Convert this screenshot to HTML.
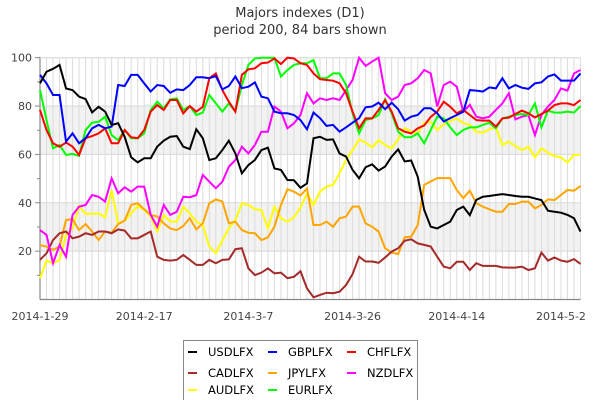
<!DOCTYPE html>
<html><head><meta charset="utf-8"><style>
html,body{margin:0;padding:0;background:#fff;}
svg{display:block;font-family:"DejaVu Sans","Liberation Sans",sans-serif;}
</style></head><body>
<svg id="chart" width="600" height="400" viewBox="0 0 600 400">
<text x="300" y="17" text-anchor="middle" font-size="13" fill="#333">Majors indexes (D1)</text>
<text x="300" y="34" text-anchor="middle" font-size="13" fill="#333">period 200, 84 bars shown</text>
<g id="plot"></g>
<g id="legend"></g>
</svg>
<script>
const xLabels = ["2014-1-29","2014-2-17","2014-3-7","2014-3-26","2014-4-14","2014-5-2"];
const xLabelBars = [0,16,32,48,64,80];
const yTicks = [20,40,60,80,100];
const seriesNames = ["USDLFX","GBPLFX","CHFLFX","CADLFX","JPYLFX","NZDLFX","AUDLFX","EURLFX"];
const seriesColors = ["#000000","#0000ff","#ff0000","#a52a2a","#ffa500","#ff00ff","#ffff00","#00ff00"];
const usd = [89.4,94.2,95.4,97,87.3,86.6,83.9,82.9,77.4,79.7,77.7,72.2,72.9,67.3,58.8,56.7,58.4,58.4,63.2,65.7,67.3,67.6,63.2,62.2,70.4,66.7,57.7,58.4,61.8,65.7,60.4,52.2,55.6,57.7,61.8,62.8,54.2,53.6,49.4,49.3,46.2,48,66.7,67.3,66,66.2,60.4,59.1,53.6,50.1,54.7,55.9,53.3,55,59.1,62.1,57.1,57.5,50.8,37,30.1,29.4,30.8,32.2,37,38.4,34.9,41.2,42.5,42.8,43.2,43.6,43.2,42.8,42.5,42.5,41.8,41.1,36.7,36.3,35.9,35,33.6,28.1];
const gbp = [92.9,89.4,84.6,84.6,65.3,68.7,64.6,66.7,70.8,72.2,70.8,71.5,88.7,88.3,92.9,92.9,89.4,86,88.7,88.3,85.5,86.9,86.6,88.7,91.9,91.9,91.5,92.4,86.9,88.3,92.2,87.4,88,89.8,83.9,83.2,77.7,77,77,76.3,74.2,70.4,77.3,75,71.8,72.2,69.4,71.2,73.1,75,79.5,79.8,81.4,78.7,81.4,78.7,74,75.6,76.3,79.1,79.1,77,73.6,75,76.3,77.7,86.6,86.4,86,87.7,87.3,91.5,87.3,88.7,87.6,87.1,89.4,89.8,92.2,93.1,90.5,90.5,90.5,93.5];
const chf = [78.4,70.1,64.6,63.2,64.9,63.2,59.8,66.7,67.6,68.7,70.8,64.6,64.6,70.1,67.1,66.7,70.1,77.7,80.4,78.4,82.5,82.5,77,80,77.7,79.7,91.5,93.5,86.6,81.8,77.7,92.9,95.2,95.6,97.7,98,99.7,97.4,100,99.7,97.7,97,93.5,91.1,90.8,90.5,89.4,85.3,77.7,70.8,74.9,74.9,78.4,82.5,77.7,70.8,69.4,68.7,70.8,72,75.5,77.7,81.8,79.7,77,78.4,76.3,74.2,74,74,71.5,74.9,75.2,76.7,78.1,77,75.3,76.7,78.1,80.4,81.1,81.1,80.4,82.5];
const cad = [16.4,19.1,24.6,27.4,28.1,25.3,26,27.4,26.7,28.1,28.1,27.4,29,28.5,25.3,25.3,26.7,28.1,17.7,16.4,16.1,16.4,18.4,16.4,14.3,14.3,16.4,15,16.4,16.6,20.8,21.2,12.9,10.1,11.1,12.9,10.8,11.1,8.8,9.4,11.7,4.6,0.9,1.9,2.8,2.6,3.2,6,10.5,17.7,15.7,15.7,15.2,17.4,19.8,21.2,24.3,24.9,23.2,22.6,21.9,17.7,13.6,12.9,15.6,15.6,12.2,15,13.9,13.9,13.9,13.3,13.2,13.2,13.6,12.2,12.9,19.4,16.1,17.4,16.1,15.6,16.7,14.7];
const jpy = [22.5,21.9,20.5,21.9,32.9,33.2,28.7,31.2,28.1,24.6,28.1,27.6,31.2,32.6,39.1,39.8,37.3,35,34.3,31.5,29.4,28.7,30.4,33.6,29,31.5,39.8,41.4,40.5,31.5,32.2,28.7,27.6,27.4,24.6,25.7,30.1,39.1,45.6,44.6,43,45.9,30.8,30.8,32.2,30.1,33.6,34.3,38.4,38.4,31.5,30.1,28.1,21.2,19.4,18.8,25.7,26,30.8,47.4,48.8,50.2,50.2,50.2,45.3,41.9,45,39.8,38.4,37.3,36.3,36.3,39.5,39.5,40.5,40.5,37.7,39.1,41.4,41.1,43.2,45.3,45,46.9];
const nzd = [28.7,26.7,15,22.5,17.7,35,38.4,39.1,43.2,42.5,40.5,50.1,43.9,46.4,44.6,46.7,46.7,35,30.1,39.1,35,36.3,42.5,42.3,43.2,51.5,48.7,46,48.7,54.9,57.7,63.2,60.4,63.9,69.4,69.4,79.8,77.7,70.8,72.9,76.3,85.3,81.1,83.2,82.5,83.2,82.5,86.6,90.8,100,96.6,98.4,100,85.3,82.5,83.9,88.7,89.4,91.5,94.9,93.5,79.8,88.7,90.1,88,77.7,80.5,75.6,74.9,75.6,78.4,81.1,85.3,74.5,75.6,76.3,68,76.3,79.8,82.5,87.3,86.4,93.5,94.9];
const aud = [8.8,16.1,15,16.3,26.7,29.4,38.7,35.4,35.4,35.6,34,45.3,31.5,32.6,35.6,38.7,37,34.3,28.1,35,32.2,32.2,38.4,35.6,32.2,30.8,21.9,19.2,24.4,29.4,32.9,39.8,39.1,37.3,37,29.4,38.4,33.6,32.2,34,38,43.9,39.1,44.6,46.7,47.4,52.2,57.7,61.8,66.2,64.9,62.9,65.9,63.9,62.5,66.2,70.8,69.4,68.7,73.1,73.5,70.1,72.5,73.9,74.9,72.9,72.2,69.4,69,70.4,71.2,63.9,65.3,63.5,61.8,63.2,58.8,62.5,60.7,59.3,58.8,56.6,59.8,59.8];
const eur = [86.6,74.2,62.5,63.9,59.8,60.2,59.4,70.1,73.1,73.5,75.6,68,65.9,70.1,66.7,66.7,68.7,78.4,81.8,79.1,82.8,83.2,78.4,80,76.3,77.3,84.6,81.1,77.7,81.1,77.7,88.7,97,99.7,100,100,100,92.2,94.9,97,97.7,97.7,99,91.5,91.5,93.5,93.5,88.7,77,68.7,74.2,74.9,76.3,82.8,77,69.4,67.1,67.1,68.7,64.6,70.1,75.6,74.9,71.2,68,70.1,71.2,71.2,72.2,73.1,70.8,74.9,75.6,76.3,76.7,76.3,81.1,71.2,78.1,77.3,77.3,77.7,77.3,80];

const NS="http://www.w3.org/2000/svg";
const L=40,R=580.5,T=57.7,B=299.5;
const nBars=usd.length;
function xs(i){return L+(R-L)*i/(nBars-1);}
function ys(v){return B-(B-T)*v/100;}
function mk(tag,attrs,parent){const e=document.createElementNS(NS,tag);for(const k in attrs)e.setAttribute(k,attrs[k]);parent.appendChild(e);return e;}
const plot=document.getElementById('plot');
// bands
[[20,40],[60,80]].forEach(b=>{
  const r=mk('rect',{x:L,y:ys(b[1]),width:R-L,height:ys(b[0])-ys(b[1]),fill:'#f2f2f2'},plot);
  
  
});
// vertical grid
for(let i=0;i<nBars;i++){
  const g=mk('line',{x1:xs(i),x2:xs(i),y1:T,y2:B,stroke:'#dcdcdc','stroke-width':1},plot);
  
  
}
// horizontal grid + y labels
yTicks.forEach(v=>{
  const g=mk('line',{x1:L,x2:R,y1:ys(v),y2:ys(v),stroke:'#d8d8d8','stroke-width':1},plot);
  
  
  const t=mk('text',{x:L-8,y:ys(v)+4,'text-anchor':'end','font-size':11,fill:'#444'},plot);
  t.textContent=v;
  
  
  const tk=mk('line',{x1:L-5,x2:L,y1:ys(v),y2:ys(v),stroke:'#888'},plot);
  
  
  const mt=mk('line',{x1:L-3,x2:L,y1:ys(v-10),y2:ys(v-10),stroke:'#888'},plot);
  
  
});
// x labels
xLabels.forEach((lab,k)=>{
  const t=mk('text',{x:xs(xLabelBars[k]),y:320,'text-anchor':'middle','font-size':11,fill:'#444'},plot);
  t.textContent=lab;
  
  
});
// axes
const ax1=mk('line',{x1:L,x2:L,y1:T-1,y2:B,stroke:'#888','stroke-width':1.2},plot);


const ax2=mk('line',{x1:L,x2:R,y1:B,y2:B,stroke:'#888','stroke-width':1.2},plot);


const ax3=mk('line',{x1:L,x2:R,y1:T,y2:T,stroke:'#ddd','stroke-width':1},plot);


// series (draw order so that black/blue on top-ish)
const seriesData=[usd,gbp,chf,cad,jpy,nzd,aud,eur];
const drawOrder=[6,4,3,5,7,2,1,0];
drawOrder.forEach(s=>{
  const d=seriesData[s].map((v,i)=>(i?'L':'M')+xs(i).toFixed(2)+' '+ys(v).toFixed(2)).join(' ');
  const p=mk('path',{d:d,fill:'none',stroke:seriesColors[s],'stroke-width':2,'stroke-linejoin':'miter'},plot);
  
  
});
// legend
const lg=document.getElementById('legend');
const box=mk('rect',{x:183.5,y:340.5,width:234,height:70,fill:'#fff',stroke:'#888','stroke-width':1},lg);


const colX=[188,268,347];
const rowY=[352,373,390];
const legendOrder=[0,1,2,3,4,5,6,7];
legendOrder.forEach((s,k)=>{
  const cx=colX[k%3],cy=rowY[Math.floor(k/3)];
  const g=mk('g',{},lg);
  
  
  mk('line',{x1:cx,x2:cx+9,y1:cy,y2:cy,stroke:seriesColors[s],'stroke-width':2},g);
  const t=mk('text',{x:cx+20,y:cy+4,'font-size':11.5,fill:'#000'},g);
  t.textContent=seriesNames[s];
});
</script>
</body></html>
